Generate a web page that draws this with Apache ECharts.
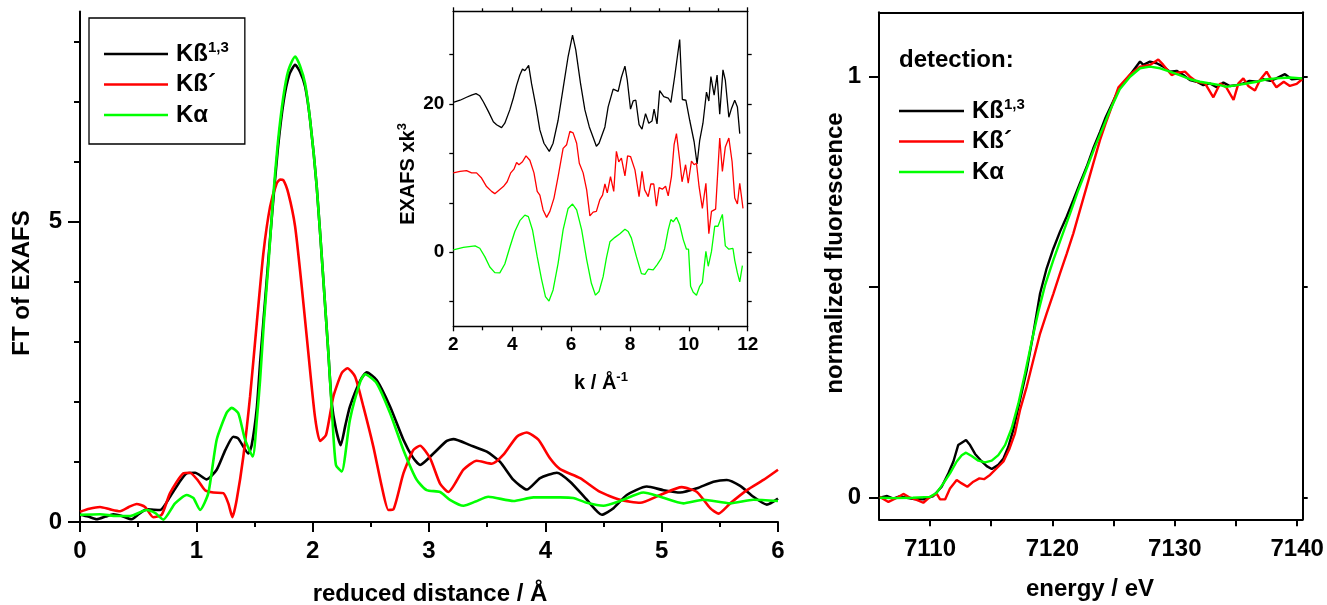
<!DOCTYPE html>
<html>
<head>
<meta charset="utf-8">
<script src="https://cdn.jsdelivr.net/npm/echarts@6/dist/echarts.min.js"></script>
<style>
  html, body { margin: 0; padding: 0; background: #fff; }
  #chart { width: 1327px; height: 605px; }
</style>
</head>
<body>
<div id="chart"></div>
<script>
// ---- detection channels ----
const channelNames = ['Kß1,3', 'Kß´', 'Kα'];
const channelColors = ['#000000', '#ff0000', '#00ff00'];

// ---- Fourier transform of EXAFS: [reduced distance / Å, magnitude] ----
const ftKb13 = [[0,0.12],[0.07,0.09],[0.143,0.045],[0.22,0.09],[0.287,0.13],[0.36,0.1],[0.444,0.045],[0.51,0.14],[0.573,0.21],[0.688,0.2],[0.774,0.42],[0.85,0.65],[0.917,0.81],[0.989,0.82],[1.089,0.71],[1.175,0.87],[1.25,1.2],[1.318,1.42],[1.36,1.39],[1.447,1.14],[1.476,1.28],[1.52,1.9],[1.55,2.7],[1.6,3.9],[1.65,5.1],[1.7,6.2],[1.75,7.0],[1.8,7.45],[1.849,7.61],[1.89,7.5],[1.935,7.25],[1.978,6.69],[2.035,5.58],[2.092,4.03],[2.135,2.81],[2.164,1.98],[2.2,1.55],[2.241,1.28],[2.28,1.6],[2.32,1.92],[2.41,2.36],[2.465,2.49],[2.551,2.36],[2.666,1.92],[2.78,1.37],[2.86,1.08],[2.923,0.95],[3.038,1.14],[3.153,1.35],[3.21,1.38],[3.353,1.28],[3.497,1.17],[3.611,1.0],[3.726,0.7],[3.841,0.54],[3.955,0.73],[4.099,0.82],[4.213,0.67],[4.357,0.37],[4.486,0.12],[4.586,0.23],[4.7,0.45],[4.872,0.59],[5.016,0.53],[5.159,0.49],[5.303,0.56],[5.445,0.67],[5.56,0.7],[5.675,0.6],[5.789,0.42],[5.904,0.29],[6.0,0.39]];
const ftKbPrime = [[0,0.17],[0.08,0.22],[0.172,0.25],[0.26,0.21],[0.344,0.18],[0.42,0.25],[0.487,0.3],[0.559,0.25],[0.63,0.08],[0.702,0.12],[0.774,0.48],[0.888,0.81],[0.946,0.82],[1.01,0.7],[1.075,0.53],[1.146,0.49],[1.232,0.48],[1.275,0.31],[1.31,0.08],[1.347,0.37],[1.404,1.09],[1.462,2.09],[1.519,3.3],[1.576,4.47],[1.634,5.25],[1.691,5.64],[1.72,5.7],[1.748,5.69],[1.791,5.47],[1.849,4.92],[1.906,3.92],[1.963,2.81],[2.02,1.75],[2.063,1.35],[2.115,1.45],[2.178,2.09],[2.25,2.48],[2.299,2.56],[2.365,2.42],[2.436,1.92],[2.522,1.25],[2.594,0.59],[2.651,0.2],[2.694,0.21],[2.78,0.81],[2.866,1.2],[2.923,1.27],[3.01,1.06],[3.095,0.64],[3.167,0.5],[3.296,0.87],[3.41,1.02],[3.54,0.97],[3.64,1.12],[3.755,1.42],[3.84,1.49],[3.94,1.37],[4.04,1.06],[4.127,0.88],[4.299,0.73],[4.471,0.5],[4.643,0.37],[4.815,0.32],[4.987,0.45],[5.173,0.58],[5.303,0.5],[5.417,0.23],[5.488,0.14],[5.589,0.31],[5.733,0.53],[5.875,0.7],[6.0,0.87]];
const ftKa = [[0,0.12],[0.172,0.13],[0.315,0.1],[0.43,0.1],[0.573,0.2],[0.645,0.15],[0.716,0.04],[0.817,0.31],[0.917,0.45],[0.974,0.4],[1.032,0.2],[1.103,0.48],[1.175,1.37],[1.261,1.82],[1.304,1.9],[1.361,1.81],[1.419,1.37],[1.485,1.09],[1.52,1.7],[1.548,2.36],[1.58,3.3],[1.62,4.3],[1.66,5.4],[1.7,6.3],[1.748,7.08],[1.791,7.52],[1.849,7.75],[1.89,7.6],[1.935,7.3],[1.978,6.69],[2.035,5.58],[2.092,4.03],[2.135,2.81],[2.17,1.7],[2.2,0.95],[2.25,0.84],[2.32,1.7],[2.41,2.34],[2.45,2.46],[2.55,2.31],[2.666,1.81],[2.78,1.2],[2.895,0.7],[2.98,0.53],[3.095,0.5],[3.18,0.37],[3.296,0.27],[3.4,0.34],[3.51,0.42],[3.726,0.35],[3.898,0.41],[4.127,0.41],[4.24,0.4],[4.357,0.32],[4.5,0.27],[4.643,0.35],[4.843,0.49],[4.987,0.42],[5.187,0.31],[5.359,0.37],[5.589,0.31],[5.789,0.37],[6.0,0.35]];

// ---- k^3-weighted EXAFS (curves offset for clarity): [k / Å^-1, value] ----
const exafsKb13 = [[2.0,20.2],[2.23,20.5],[2.45,20.9],[2.62,21.2],[2.77,21.4],[2.9,21.1],[3.02,20.3],[3.19,19.0],[3.36,17.6],[3.47,17.2],[3.64,16.8],[3.75,17.4],[3.92,19.2],[4.04,20.8],[4.15,22.5],[4.26,23.9],[4.35,24.7],[4.43,24.5],[4.49,24.8],[4.56,25.2],[4.66,22.7],[4.81,19.6],[4.94,16.5],[5.08,14.7],[5.26,13.6],[5.39,14.7],[5.56,17.8],[5.73,22.1],[5.9,26.4],[6.05,29.3],[6.16,27.3],[6.32,22.8],[6.47,19.2],[6.62,16.9],[6.73,15.7],[6.86,14.3],[6.95,14.7],[7.15,16.9],[7.26,19.6],[7.43,22.0],[7.6,21.7],[7.71,23.6],[7.83,25.1],[7.91,23.2],[8.02,19.3],[8.11,20.4],[8.2,20.5],[8.31,17.2],[8.41,16.6],[8.53,18.7],[8.64,17.4],[8.75,17.7],[8.82,19.3],[8.92,17.3],[9.01,21.8],[9.15,21.0],[9.3,20.8],[9.39,20.2],[9.52,23.7],[9.69,28.7],[9.78,20.6],[9.9,20.5],[10.03,17.8],[10.18,14.9],[10.28,11.9],[10.37,15.1],[10.48,17.4],[10.6,21.6],[10.68,20.4],[10.75,23.7],[10.86,21.2],[10.96,23.9],[11.05,18.6],[11.16,24.6],[11.24,23.2],[11.36,18.2],[11.45,19.4],[11.56,20.5],[11.65,19.6],[11.73,16.0]];
const exafsKbPrime = [[2.0,10.7],[2.23,10.9],[2.45,11.0],[2.62,10.7],[2.79,10.7],[2.96,10.0],[3.13,8.85],[3.3,8.2],[3.41,7.9],[3.56,8.4],[3.7,8.85],[3.83,9.5],[3.95,10.7],[4.06,11.2],[4.15,12.1],[4.23,11.8],[4.35,12.2],[4.47,13.0],[4.6,12.4],[4.74,10.7],[4.85,8.2],[4.94,7.7],[5.05,5.7],[5.17,4.7],[5.28,5.5],[5.42,7.3],[5.56,10.2],[5.73,14.0],[5.85,14.5],[5.96,16.3],[6.07,16.1],[6.19,14.7],[6.28,12.0],[6.41,10.7],[6.53,8.4],[6.64,4.9],[6.75,5.4],[6.86,5.5],[6.98,7.1],[7.07,7.7],[7.15,9.2],[7.23,8.0],[7.34,10.2],[7.45,8.2],[7.54,13.6],[7.62,12.2],[7.71,12.7],[7.83,10.3],[7.92,13.0],[8.02,12.9],[8.17,11.1],[8.31,7.5],[8.41,10.9],[8.5,8.4],[8.62,7.5],[8.71,9.2],[8.81,9.2],[8.9,6.2],[8.99,8.7],[9.1,8.5],[9.21,8.9],[9.3,7.6],[9.41,10.2],[9.5,14.5],[9.58,16.0],[9.69,12.4],[9.77,9.5],[9.89,11.8],[9.98,9.3],[10.09,12.3],[10.18,11.8],[10.26,12.0],[10.35,8.8],[10.46,5.9],[10.58,9.3],[10.68,2.5],[10.77,5.5],[10.91,5.8],[11.05,15.4],[11.14,10.9],[11.24,14.2],[11.36,15.4],[11.47,12.2],[11.56,7.3],[11.65,6.5],[11.73,9.3],[11.84,5.9]];
const exafsKa = [[2.0,0.3],[2.34,0.66],[2.74,0.85],[2.9,0.53],[3.07,-0.6],[3.24,-2.0],[3.41,-2.75],[3.58,-2.8],[3.75,-1.6],[3.92,0.66],[4.09,2.8],[4.26,4.25],[4.43,5.0],[4.55,4.8],[4.69,3.0],[4.85,-0.6],[5.0,-3.7],[5.13,-6.0],[5.25,-6.6],[5.39,-5.1],[5.56,-1.5],[5.73,3.0],[5.9,5.9],[6.05,6.5],[6.19,5.7],[6.36,3.0],[6.53,-1.0],[6.69,-4.2],[6.83,-5.8],[6.95,-5.3],[7.09,-3.3],[7.2,-0.8],[7.32,1.4],[7.49,2.0],[7.66,2.5],[7.83,3.1],[7.94,2.8],[8.05,1.9],[8.22,-0.6],[8.39,-2.9],[8.51,-3.0],[8.62,-2.3],[8.79,-2.4],[8.92,-1.7],[9.07,-0.8],[9.18,0.5],[9.3,3.0],[9.39,4.4],[9.47,4.1],[9.58,4.7],[9.69,3.7],[9.81,1.7],[9.92,0.4],[9.99,0.4],[10.06,-4.6],[10.15,-5.4],[10.26,-5.8],[10.37,-4.6],[10.46,-4.1],[10.58,0.1],[10.66,-1.9],[10.77,0.1],[10.88,3.5],[10.99,3.5],[11.05,3.4],[11.14,5.1],[11.24,0.85],[11.36,0.4],[11.5,0.5],[11.56,-1.1],[11.65,-2.8],[11.73,-4.0],[11.82,-1.8]];

// ---- Fe K-edge XANES: [energy / eV, normalized fluorescence] ----
const xanesKb13 = [[7105.9,0.0],[7106.5,0.004],[7107.0,-0.002],[7107.5,0.003],[7108.1,0.0],[7108.7,-0.003],[7109.45,-0.004],[7110.27,0.004],[7110.95,0.026],[7111.5,0.058],[7111.91,0.086],[7112.3,0.125],[7112.72,0.133],[7112.94,0.137],[7113.27,0.125],[7113.68,0.104],[7114.1,0.09],[7114.63,0.075],[7115.04,0.068],[7115.58,0.078],[7116.0,0.093],[7116.4,0.121],[7116.8,0.161],[7117.35,0.232],[7117.9,0.303],[7118.44,0.39],[7118.99,0.485],[7119.53,0.545],[7120.08,0.592],[7120.62,0.632],[7121.17,0.668],[7121.71,0.707],[7122.25,0.747],[7122.8,0.786],[7123.34,0.83],[7123.89,0.869],[7124.3,0.9],[7124.7,0.925],[7125.5,0.975],[7126.34,1.004],[7127.16,1.036],[7127.43,1.028],[7127.97,1.036],[7128.52,1.032],[7129.06,1.024],[7129.6,1.012],[7130.15,1.014],[7130.7,1.004],[7131.24,0.992],[7131.79,0.988],[7132.33,0.98],[7132.88,0.984],[7133.42,0.975],[7133.97,0.986],[7134.5,0.978],[7135.05,0.98],[7135.6,0.984],[7136.1,0.99],[7136.7,0.988],[7137.2,0.994],[7137.8,0.99],[7138.3,0.996],[7139.0,1.006],[7139.55,0.994],[7140.4,0.996]];
const xanesKbPrime = [[7105.9,0.002],[7106.6,-0.01],[7107.3,0.0],[7107.82,0.009],[7108.37,0.0],[7108.91,-0.005],[7109.45,-0.012],[7110.0,0.002],[7110.55,0.009],[7110.82,-0.004],[7111.23,-0.004],[7111.63,0.022],[7112.18,0.042],[7112.59,0.034],[7113.05,0.026],[7113.54,0.038],[7114.03,0.046],[7114.41,0.044],[7114.9,0.054],[7115.45,0.07],[7116.0,0.086],[7116.5,0.117],[7116.94,0.153],[7117.35,0.208],[7117.9,0.264],[7118.44,0.327],[7118.99,0.39],[7119.53,0.438],[7120.08,0.485],[7120.62,0.533],[7121.17,0.58],[7121.71,0.628],[7122.25,0.683],[7122.8,0.739],[7123.34,0.794],[7123.89,0.85],[7124.3,0.885],[7124.7,0.917],[7125.4,0.975],[7126.3,1.004],[7127.16,1.024],[7127.97,1.028],[7128.65,1.041],[7129.06,1.028],[7129.74,1.004],[7130.15,1.009],[7130.83,1.012],[7131.24,1.0],[7131.79,0.988],[7132.47,0.984],[7133.15,0.951],[7133.7,0.984],[7134.2,0.975],[7134.8,0.945],[7135.2,0.984],[7135.6,0.996],[7136.0,0.978],[7136.55,0.967],[7136.96,0.992],[7137.5,1.012],[7137.9,0.992],[7138.3,0.975],[7138.9,0.988],[7139.4,0.978],[7139.96,0.983],[7140.4,0.994]];
const xanesKa = [[7105.9,0.0],[7107.0,-0.001],[7108.6,0.0],[7110.0,0.002],[7110.55,0.012],[7111.09,0.034],[7111.63,0.058],[7112.18,0.086],[7112.59,0.101],[7112.94,0.107],[7113.4,0.099],[7113.95,0.088],[7114.5,0.084],[7115.04,0.088],[7115.58,0.101],[7116.13,0.125],[7116.67,0.165],[7117.22,0.224],[7117.76,0.295],[7118.3,0.37],[7118.85,0.442],[7119.4,0.505],[7120.08,0.565],[7120.76,0.62],[7121.44,0.675],[7122.12,0.731],[7122.8,0.782],[7123.48,0.834],[7124.16,0.881],[7124.7,0.92],[7125.5,0.97],[7126.34,1.0],[7127.16,1.02],[7127.97,1.024],[7128.8,1.02],[7129.6,1.012],[7130.4,1.004],[7131.24,0.994],[7132.06,0.988],[7132.88,0.984],[7133.7,0.98],[7134.2,0.976],[7135.05,0.98],[7135.87,0.984],[7136.7,0.988],[7137.5,0.994],[7138.3,0.996],[7139.4,0.998],[7140.4,0.996]];

// ---- tick positions ----
const ftMinorTicks = [1, 2, 3, 4, 6, 7, 8];
const ftMajorTicks = [0, 5];
const exafsTicks = [-20 / 3, 0, 20 / 3, 40 / 3, 20, 80 / 3];
const exafsLabels = [0, 20];
const energyTicks = [7110, 7115, 7120, 7125, 7130, 7135, 7140];
const energyLabels = [7110, 7120, 7130, 7140];
const fluoTicks = [0, 0.5, 1];
const fluoLabels = [0, 1];

const FONT = '"Liberation Sans", Arial, Helvetica, sans-serif';
const BLACK = '#000';

const chart = echarts.init(document.getElementById('chart'), null, { renderer: 'canvas' });

function axisBase(extra) {
  return Object.assign({
    type: 'value',
    splitLine: { show: false },
    axisLine: { show: true, onZero: false, lineStyle: { color: BLACK, width: 2 } },
    axisTick: { show: true, inside: false, length: 6, lineStyle: { color: BLACK, width: 2 } },
    axisLabel: { show: false }
  }, extra);
}

function labelStyle(size, margin, extra) {
  return Object.assign({
    show: true, color: BLACK, fontFamily: FONT, fontWeight: 'bold', fontSize: size, margin: margin,
    formatter: function (v) { return String(v); }
  }, extra || {});
}

// legend entries: superscripts rendered through rich text
const legendRich = {
  t: { fontFamily: FONT, fontWeight: 'bold', fontSize: 24, color: BLACK, lineHeight: 28, padding: [0, 0, 0, 3] },
  s: { fontFamily: FONT, fontWeight: 'bold', fontSize: 15, color: BLACK, verticalAlign: 'top', lineHeight: 15 }
};
function legendText(name) {
  if (name === 'Kß1,3') return '{t|Kß}{s|1,3}';
  return '{t|' + name + '}';
}

function lineSeries(name, idx, data, xi, yi, width, smooth) {
  return {
    type: 'line', name: name, data: data,
    xAxisIndex: xi, yAxisIndex: yi,
    symbol: 'none', showSymbol: false, smooth: smooth, clip: true,
    lineStyle: { color: channelColors[idx], width: width },
    itemStyle: { color: channelColors[idx] },
    animation: false, silent: true
  };
}

const option = {
  backgroundColor: '#fff',
  animation: false,
  grid: [
    { left: 80, top: 11.4, width: 698, height: 510.6, outerBoundsMode: 'none', containLabel: false },
    { left: 453.3, top: 11.3, width: 294.4, height: 315, outerBoundsMode: 'none', containLabel: false },
    { left: 879, top: 12.3, width: 423.7, height: 507, outerBoundsMode: 'none', containLabel: false }
  ],
  xAxis: [
    // FT: reduced distance
    axisBase({ gridIndex: 0, min: 0, max: 6, interval: 1,
      axisTick: { show: true, length: 10, lineStyle: { color: BLACK, width: 2 } },
      minorTick: { show: true, splitNumber: 2, length: 5, lineStyle: { color: BLACK, width: 2 } },
      axisLabel: labelStyle(24, 17) }),
    // EXAFS inset: k (bottom)
    axisBase({ gridIndex: 1, min: 2, max: 12, interval: 2, position: 'bottom',
      axisLine: { show: true, onZero: false, lineStyle: { color: BLACK, width: 1.3 } },
      axisTick: { show: true, length: 5, lineStyle: { color: BLACK, width: 1.3 } },
      minorTick: { show: true, splitNumber: 2, length: 4, lineStyle: { color: BLACK, width: 1.3 } },
      axisLabel: labelStyle(19, 9) }),
    // EXAFS inset: frame top
    axisBase({ gridIndex: 1, min: 2, max: 12, interval: 2, position: 'top',
      axisLine: { show: true, onZero: false, lineStyle: { color: BLACK, width: 1.3 } },
      axisTick: { show: true, length: 4, lineStyle: { color: BLACK, width: 1.3 } },
      minorTick: { show: true, splitNumber: 2, length: 3, lineStyle: { color: BLACK, width: 1.3 } } }),
    // XANES: energy (bottom)
    axisBase({ gridIndex: 2, min: 7105.83, max: 7140.45, position: 'bottom',
      axisTick: { show: true, length: 7, customValues: energyTicks, lineStyle: { color: BLACK, width: 2 } },
      axisLabel: labelStyle(24, 18, { customValues: energyLabels }) }),
    // XANES: frame top
    axisBase({ gridIndex: 2, min: 7105.83, max: 7140.45, position: 'top',
      axisTick: { show: false } })
  ],
  yAxis: [
    // FT magnitude: axis line + minor ticks
    axisBase({ gridIndex: 0, min: 0, max: 8.5, position: 'left',
      axisTick: { show: true, length: 6, customValues: ftMinorTicks, lineStyle: { color: BLACK, width: 2 } },
      axisLabel: labelStyle(24, 18, { customValues: ftMajorTicks }) }),
    // FT magnitude: major ticks
    axisBase({ gridIndex: 0, min: 0, max: 8.5, position: 'left',
      axisLine: { show: false },
      axisTick: { show: true, length: 12, customValues: ftMajorTicks, lineStyle: { color: BLACK, width: 2 } } }),
    // EXAFS inset left
    axisBase({ gridIndex: 1, min: -10, max: 32.5, position: 'left',
      axisLine: { show: true, onZero: false, lineStyle: { color: BLACK, width: 1.3 } },
      axisTick: { show: true, length: 4, customValues: exafsTicks, lineStyle: { color: BLACK, width: 1.3 } },
      axisLabel: labelStyle(19, 9, { customValues: exafsLabels }) }),
    // EXAFS inset right frame
    axisBase({ gridIndex: 1, min: -10, max: 32.5, position: 'right',
      axisLine: { show: true, onZero: false, lineStyle: { color: BLACK, width: 1.3 } },
      axisTick: { show: true, length: 4, customValues: exafsTicks, lineStyle: { color: BLACK, width: 1.3 } } }),
    // XANES left
    axisBase({ gridIndex: 2, min: -0.0513, max: 1.153, position: 'left',
      axisTick: { show: true, length: 10, customValues: fluoTicks, lineStyle: { color: BLACK, width: 2 } },
      axisLabel: labelStyle(24, 18, { customValues: fluoLabels }) }),
    // XANES right frame
    axisBase({ gridIndex: 2, min: -0.0513, max: 1.153, position: 'right',
      axisTick: { show: true, length: 5, customValues: fluoTicks, lineStyle: { color: BLACK, width: 2 } } })
  ],
  legend: [
    {
      orient: 'vertical', left: 89, top: 18,
      data: channelNames,
      icon: 'rect',
      itemWidth: 64, itemHeight: 2.6, itemGap: 6.5,
      padding: [22, 16, 17, 15],
      borderColor: BLACK, borderWidth: 1.3, backgroundColor: '#fff',
      selectedMode: false,
      formatter: legendText,
      textStyle: { rich: legendRich }
    },
    {
      orient: 'vertical', left: 899, top: 97,
      data: channelNames,
      icon: 'rect',
      itemWidth: 65, itemHeight: 2.4, itemGap: 6.5,
      padding: 0,
      selectedMode: false,
      formatter: legendText,
      textStyle: { rich: legendRich }
    }
  ],
  graphic: [
    { type: 'text', x: 22, y: 283, rotation: Math.PI / 2,
      style: { text: 'FT of EXAFS', font: 'bold 24px ' + FONT, fill: BLACK,
        align: 'center', verticalAlign: 'middle', textAlign: 'center', textVerticalAlign: 'middle' } },
    { type: 'text', x: 430, y: 594,
      style: { text: 'reduced distance / Å', font: 'bold 24px ' + FONT, fill: BLACK,
        align: 'center', verticalAlign: 'middle', textAlign: 'center', textVerticalAlign: 'middle' } },
    { type: 'text', x: 408, y: 174, rotation: Math.PI / 2,
      style: { text: '{b|EXAFS xk}{s|3}', fill: BLACK,
        align: 'center', verticalAlign: 'middle', textAlign: 'center', textVerticalAlign: 'middle',
        rich: {
          b: { font: 'bold 20px ' + FONT, fill: BLACK, lineHeight: 24 },
          s: { font: 'bold 13px ' + FONT, fill: BLACK, verticalAlign: 'top', lineHeight: 13 }
        } } },
    { type: 'text', x: 601, y: 383,
      style: { text: '{b|k / Å}{s|-1}', fill: BLACK,
        align: 'center', verticalAlign: 'middle', textAlign: 'center', textVerticalAlign: 'middle',
        rich: {
          b: { font: 'bold 20px ' + FONT, fill: BLACK, lineHeight: 24 },
          s: { font: 'bold 13px ' + FONT, fill: BLACK, verticalAlign: 'top', lineHeight: 13 }
        } } },
    { type: 'text', x: 835, y: 253, rotation: Math.PI / 2,
      style: { text: 'normalized fluorescence', font: 'bold 24px ' + FONT, fill: BLACK,
        align: 'center', verticalAlign: 'middle', textAlign: 'center', textVerticalAlign: 'middle' } },
    { type: 'text', x: 1090, y: 589,
      style: { text: 'energy / eV', font: 'bold 24px ' + FONT, fill: BLACK,
        align: 'center', verticalAlign: 'middle', textAlign: 'center', textVerticalAlign: 'middle' } },
    { type: 'text', x: 899, y: 60,
      style: { text: 'detection:', font: 'bold 24px ' + FONT, fill: BLACK,
        align: 'left', verticalAlign: 'middle', textAlign: 'left', textVerticalAlign: 'middle' } }
  ],
  series: [
    lineSeries(channelNames[0], 0, ftKb13, 0, 0, 2.6, 0.2),
    lineSeries(channelNames[1], 1, ftKbPrime, 0, 0, 2.6, 0.2),
    lineSeries(channelNames[2], 2, ftKa, 0, 0, 2.6, 0.2),
    lineSeries(channelNames[0], 0, exafsKb13, 1, 2, 1.3, false),
    lineSeries(channelNames[1], 1, exafsKbPrime, 1, 2, 1.3, false),
    lineSeries(channelNames[2], 2, exafsKa, 1, 2, 1.3, false),
    lineSeries(channelNames[0], 0, xanesKb13, 3, 4, 2.4, false),
    lineSeries(channelNames[1], 1, xanesKbPrime, 3, 4, 2.4, false),
    lineSeries(channelNames[2], 2, xanesKa, 3, 4, 2.4, false)
  ]
};

chart.setOption(option);
</script>
</body>
</html>
